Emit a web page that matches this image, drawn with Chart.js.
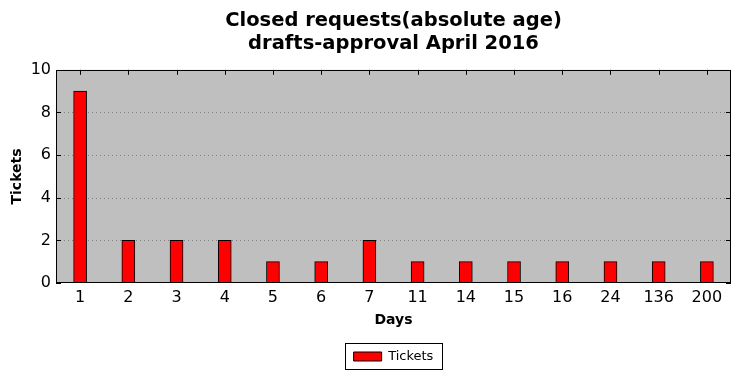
<!DOCTYPE html>
<html><head><meta charset="utf-8">
<script src="https://cdn.jsdelivr.net/npm/chart.js@4/dist/chart.umd.min.js"></script>
<style>html,body{margin:0;padding:0;background:#fff}#w{width:740px;height:378px}</style>
</head><body><div id="w"><canvas id="c" width="740" height="378"></canvas></div>
<script>
const categories = ["1","2","3","4","5","6","7","11","14","15","16","24","136","200"];
const tickets = [9,2,2,2,1,1,2,1,1,1,1,1,1,1];
const yTicks = [0,2,4,6,8,10];
const titleLines = ["Closed requests(absolute age)","drafts-approval April 2016"];
const FONT = "'DejaVu Sans', sans-serif";

const frame = {
  id: 'frame',
  afterLayout(chart) {
    const a = chart.chartArea;
    const mid = (a.left + a.right) / 2;
    [chart.legend, chart.titleBlock].forEach(b => {
      if (!b) return;
      const delta = Math.round(mid - (b.left + b.right) / 2);
      b.left += delta; b.right += delta;
      (b.legendHitBoxes || []).forEach(h => { h.left += delta; });
    });
  },
  beforeDatasetsDraw(chart) {
    const {ctx, chartArea: a} = chart;
    ctx.save();
    ctx.fillStyle = '#bfbfbf';
    ctx.fillRect(a.left, a.top, a.right - a.left, a.bottom - a.top);
    ctx.strokeStyle = '#808080';
    ctx.lineWidth = 1;
    ctx.setLineDash([1, 3]);
    const y = chart.scales.y, x = chart.scales.x;
    yTicks.forEach(v => {
      if (v === 0 || v === 10) return;
      const py = Math.round(y.getPixelForValue(v)) + 0.5;
      ctx.beginPath(); ctx.moveTo(a.left, py); ctx.lineTo(a.right, py); ctx.stroke();
    });
    ctx.setLineDash([]);
    ctx.strokeStyle = '#000';
    const L = 5;
    yTicks.forEach(v => {
      const py = Math.round(y.getPixelForValue(v)) + 0.5;
      ctx.beginPath();
      ctx.moveTo(a.left, py); ctx.lineTo(a.left + L, py);
      ctx.moveTo(a.right, py); ctx.lineTo(a.right - L, py);
      ctx.stroke();
    });
    categories.forEach((c, i) => {
      const px = Math.round(x.getPixelForValue(i)) + 0.5;
      ctx.beginPath();
      ctx.moveTo(px, a.bottom); ctx.lineTo(px, a.bottom - L);
      ctx.moveTo(px, a.top); ctx.lineTo(px, a.top + L);
      ctx.stroke();
    });
    ctx.restore();
  },
  afterDraw(chart) {
    const {ctx, chartArea: a} = chart;
    ctx.save();
    ctx.strokeStyle = '#000';
    ctx.lineWidth = 1;
    ctx.setLineDash([]);
    ctx.strokeRect(Math.round(a.left) + 0.5, Math.round(a.top) + 0.5, Math.round(a.right - a.left) - 1, Math.round(a.bottom - a.top) - 1);
    const lg = chart.legend;
    if (lg && lg.legendHitBoxes && lg.legendHitBoxes.length) {
      const hb = lg.legendHitBoxes[0];
      ctx.strokeRect(Math.round(hb.left) - 8.5, Math.round(hb.top) - 6.5, Math.round(hb.width) + 17, Math.round(hb.height) + 13);
    }
    ctx.restore();
  }
};

new Chart(document.getElementById('c'), {
  type: 'bar',
  data: {
    labels: categories,
    datasets: [{
      label: 'Tickets',
      data: tickets,
      backgroundColor: '#ff0000',
      borderColor: '#000000',
      borderWidth: 1,
      borderSkipped: false,
      barThickness: 13,
      categoryPercentage: 1.0
    }]
  },
  options: {
    responsive: false,
    animation: false,
    devicePixelRatio: 1,
    layout: { padding: { left: 0, right: 9, top: 10, bottom: 5 } },
    plugins: {
      title: {
        display: true,
        text: titleLines,
        color: '#000',
        font: { family: FONT, size: 19.5, weight: 'bold', lineHeight: 1.15 },
        padding: { top: 0, bottom: 15 }
      },
      legend: {
        position: 'bottom',
        labels: {
          color: '#000',
          font: { family: FONT, size: 13 },
          boxWidth: 28,
          boxHeight: 9,
          padding: 6,
          generateLabels(chart) {
            return [{ text: 'Tickets', fillStyle: '#ff0000', strokeStyle: '#000', lineWidth: 1, hidden: false, datasetIndex: 0 }];
          }
        }
      },
      tooltip: { enabled: false }
    },
    scales: {
      x: {
        offset: true,
        grid: { display: false, drawTicks: false },
        border: { display: false },
        ticks: { color: '#000', font: { family: FONT, size: 16 }, padding: 5, maxRotation: 0 },
        title: { display: true, text: 'Days', color: '#000', font: { family: FONT, size: 14, weight: 'bold' }, padding: { top: 0, bottom: 15 } }
      },
      y: {
        min: 0, max: 10,
        afterFit(s) { s.width = 56; },
        grid: { display: false, drawTicks: false },
        border: { display: false },
        ticks: { stepSize: 2, color: '#000', font: { family: FONT, size: 16 }, padding: 5 },
        title: { display: true, text: 'Tickets', color: '#000', font: { family: FONT, size: 14, weight: 'bold' }, padding: { top: 9, bottom: 4 } }
      }
    }
  },
  plugins: [frame]
});
</script></body></html>
